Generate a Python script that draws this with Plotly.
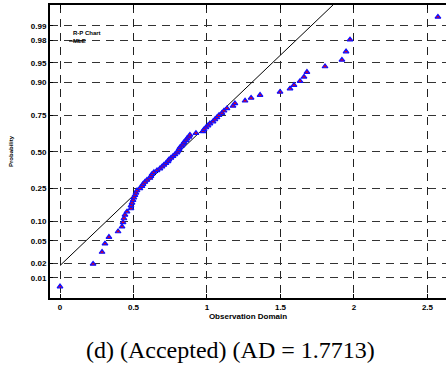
import plotly.graph_objects as go
from statistics import NormalDist

obs_x = [0.000, 0.225, 0.286, 0.306, 0.333, 0.395, 0.422, 0.429, 0.435, 0.442,
         0.456, 0.483, 0.483, 0.490, 0.497, 0.503, 0.510, 0.517, 0.524, 0.544,
         0.558, 0.565, 0.578, 0.592, 0.612, 0.619, 0.626, 0.639, 0.660, 0.680,
         0.694, 0.707, 0.721, 0.735, 0.741, 0.755, 0.769, 0.782, 0.796, 0.803,
         0.810, 0.816, 0.830, 0.837, 0.844, 0.857, 0.864, 0.878, 0.884, 0.925,
         0.973, 0.980, 0.993, 1.007, 1.020, 1.041, 1.054, 1.068, 1.082, 1.102,
         1.116, 1.136, 1.177, 1.190, 1.259, 1.300, 1.361, 1.497, 1.565, 1.592,
         1.633, 1.660, 1.680, 1.803, 1.918, 1.946, 1.973, 2.571]
obs_p = [0.0064, 0.0192, 0.0321, 0.0449, 0.0577, 0.0705, 0.0833, 0.0962, 0.1090, 0.1218,
         0.1346, 0.1474, 0.1603, 0.1731, 0.1859, 0.1987, 0.2115, 0.2244, 0.2372, 0.2500,
         0.2628, 0.2756, 0.2885, 0.3013, 0.3141, 0.3269, 0.3397, 0.3526, 0.3654, 0.3782,
         0.3910, 0.4038, 0.4167, 0.4295, 0.4423, 0.4551, 0.4679, 0.4808, 0.4936, 0.5064,
         0.5192, 0.5321, 0.5449, 0.5577, 0.5705, 0.5833, 0.5962, 0.6090, 0.6218, 0.6346,
         0.6474, 0.6603, 0.6731, 0.6859, 0.6987, 0.7115, 0.7244, 0.7372, 0.7500, 0.7628,
         0.7756, 0.7885, 0.8013, 0.8141, 0.8269, 0.8397, 0.8526, 0.8654, 0.8782, 0.8910,
         0.9038, 0.9167, 0.9295, 0.9423, 0.9551, 0.9679, 0.9808, 0.9936]

# MLE normal fit (reference line)
fit_mu = 0.811
fit_sigma = 0.386
fit_x = [0.0, 2.2]

x_ticks = [0, 0.5, 1, 1.5, 2, 2.5]
x_tick_text = ["0", "0.5", "1", "1.5", "2", "2.5"]
p_ticks = [0.01, 0.02, 0.05, 0.10, 0.25, 0.50, 0.75, 0.90, 0.95, 0.98, 0.99]
p_tick_text = ["0.01", "0.02", "0.05", "0.10", "0.25", "0.50", "0.75", "0.90", "0.95", "0.98", "0.99"]

nd = NormalDist()
to_z = lambda p: nd.inv_cdf(p)

fig = go.Figure()
fig.add_trace(go.Scatter(
    x=fit_x, y=[(v - fit_mu) / fit_sigma for v in fit_x],
    mode="lines", line=dict(color="black", width=1), showlegend=False,
    hoverinfo="skip"))
fig.add_trace(go.Scatter(
    x=obs_x, y=[to_z(p) for p in obs_p], mode="markers",
    marker=dict(symbol="triangle-up", size=5, color="#e00020",
                line=dict(color="#1010ff", width=1.2)),
    showlegend=False, cliponaxis=False))

font = "Liberation Sans, Arial, sans-serif"
fig.update_layout(
    width=446, height=371,
    margin=dict(l=50, r=0, t=5, b=73),
    paper_bgcolor="white", plot_bgcolor="white",
    font=dict(family=font, size=8, color="black"),
    xaxis=dict(
        range=[-0.068, 2.626], tickvals=x_ticks, ticktext=x_tick_text,
        showgrid=True, gridcolor="#222", griddash="8px,6px", gridwidth=1,
        zeroline=False, showline=True, linecolor="black", linewidth=2,
        mirror="ticks", ticks="inside", ticklen=4, tickcolor="black",
        tickfont=dict(family=font, size=8, weight="bold"),
        title=dict(text="<b>Observation Domain</b>", font=dict(size=8), standoff=2),
    ),
    yaxis=dict(
        range=[-2.70, 2.71], tickvals=[to_z(p) for p in p_ticks], ticktext=p_tick_text,
        showgrid=True, gridcolor="#333", griddash="8px,6px", gridwidth=1,
        zeroline=False, showline=True, linecolor="black", linewidth=2,
        ticks="inside", ticklen=3, tickcolor="black",
        tickfont=dict(family=font, size=8, weight="bold"),
        title=dict(text="<b>Probability</b>", font=dict(size=6), standoff=17),
    ),
    annotations=[
        dict(text="<b>R-P Chart</b>", xref="paper", yref="paper", x=0.053, y=0.904,
             xanchor="left", yanchor="middle", showarrow=False,
             font=dict(family=font, size=6)),
        dict(text="<b>MLE</b>", xref="paper", yref="paper", x=0.053, y=0.877,
             xanchor="left", yanchor="middle", showarrow=False,
             font=dict(family=font, size=6)),
        dict(text="(d) (Accepted) (AD = 1.7713)", xref="paper", yref="paper",
             x=0.457, y=-0.177, xanchor="center", yanchor="middle", showarrow=False,
             font=dict(family="Liberation Serif, Times New Roman, serif", size=24)),
    ],
    shapes=[
        dict(type="line", xref="paper", yref="paper", x0=0.048, x1=0.082,
             y0=0.877, y1=0.877, line=dict(color="black", width=1)),
    ],
)

fig.write_html("out.html")
